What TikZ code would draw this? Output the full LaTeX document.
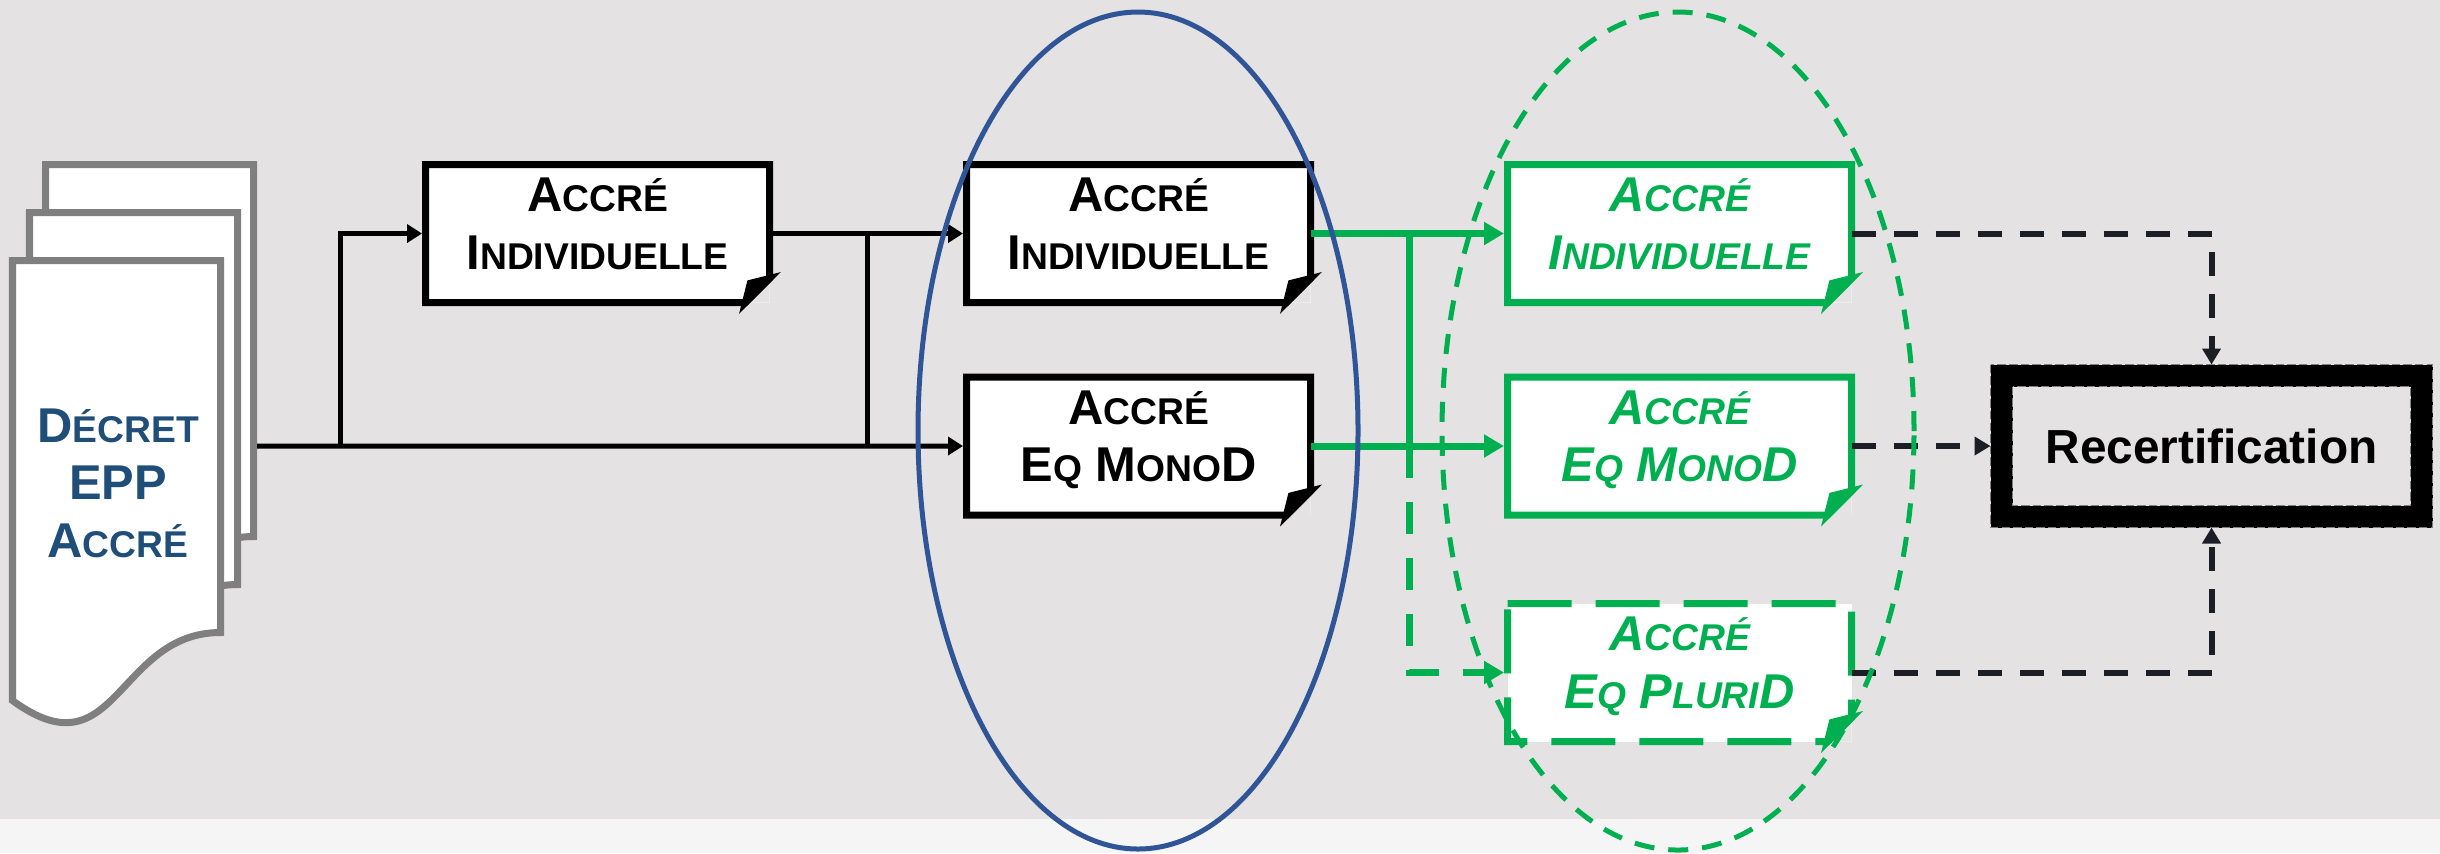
\documentclass[tikz,border=0pt]{standalone}
\usepackage{fontspec}
\setmainfont{Liberation Sans}
\usepackage{xcolor}
\usepackage{tikz}
\usetikzlibrary{positioning,arrows.meta}
\definecolor{bgcol}{RGB}{228,226,227}
\definecolor{footcol}{RGB}{245,245,245}
\definecolor{docgray}{RGB}{127,127,127}
\definecolor{decretblue}{RGB}{31,78,121}
\definecolor{ellblue}{RGB}{47,85,151}
\definecolor{accgreen}{RGB}{0,176,80}
\definecolor{dashblack}{RGB}{28,30,38}
\newcommand{\bigsc}[1]{{\fontsize{13.9pt}{16.4pt}\selectfont #1}}
\newcommand{\smallsc}[1]{{\fontsize{10.6pt}{16.4pt}\selectfont #1}}
\newcommand{\smcap}[2]{\bigsc{#1}\smallsc{#2}}
% box outline with the folded corner at south east
\newcommand{\foldcorner}[3]{%
  \fill[bgcol] ([yshift=0.24cm]#1.south east) -- (#1.south east) -- ([xshift=-0.24cm]#1.south east) -- cycle;
  \draw[#2,line width=0.07cm,#3] (#1.north west) -- (#1.north east) -- ([yshift=0.24cm]#1.south east)
    -- ([xshift=-0.24cm]#1.south east) -- (#1.south west) -- cycle;
  \filldraw[#2,line width=0.07cm] ([xshift=-0.24cm]#1.south east) -- ([xshift=-0.192cm,yshift=0.192cm]#1.south east)
    -- ([yshift=0.24cm]#1.south east) -- cycle;}

\begin{document}
\begin{tikzpicture}[auto,every node/.style={on grid,node distance=5.41cm},
    sheet/.style={draw=docgray,fill=white,line width=0.07cm},
    doctext/.style={align=center,text=decretblue,font=\bfseries\fontsize{13.9pt}{16.4pt}\selectfont},
    box/.style={rectangle,fill=white,minimum width=3.44cm,minimum height=1.38cm,inner sep=0pt,outer sep=0pt,
      align=center,text depth=0.2cm,font=\bfseries\fontsize{13.9pt}{16.4pt}\selectfont},
    gbox/.style={box,text=accgreen,font=\bfseries\itshape\fontsize{13.9pt}{16.4pt}\selectfont},
    recbox/.style={rectangle,draw=black,line width=0.22cm,minimum width=4.2cm,minimum height=1.41cm,inner sep=0pt,
      font=\bfseries\fontsize{13.6pt}{16pt}\selectfont},
    recedge/.style={draw=gray,line width=0.3pt,dash pattern=on 2.4pt off 0.9pt},
    kline/.style={draw=black,line width=0.05cm},
    kconn/.style={kline,-{Triangle[length=0.15cm,width=0.18cm]},shorten >=0.035cm},
    gline/.style={draw=accgreen,line width=0.07cm},
    gconn/.style={gline,-{Triangle[length=0.2cm,width=0.22cm]},shorten >=0.035cm},
    gdashconn/.style={gconn,dash pattern=on 0.32cm off 0.24cm},
    kdash/.style={draw=dashblack,line width=0.06cm,dash pattern=on 0.24cm off 0.18cm,-{Triangle[length=0.16cm,width=0.18cm]}}]
    \useasboundingbox (0,0) rectangle (24.4,-8.53);
    \fill[bgcol] (0,0) rectangle (24.4,-8.53);
    \fill[footcol] (0,-8.19) rectangle (24.4,-8.53);

    % stack of documents
    \foreach \x/\y in {0.455/-1.645,0.295/-2.125,0.125/-2.605}
      \filldraw[sheet,shift={(\x,\y)}] (0,0) -- (2.08,0) -- (2.08,-3.72)
        .. controls (1.04,-3.72) and (1.04,-5.16) .. (0,-4.40) -- cycle;
    \node[doctext] (decret) at (1.18,-4.83) {\smcap{D}{ÉCRET}\\EPP\\\smcap{A}{CCRÉ}};

    \node[box] (A1) at (5.975,-2.335) {\smcap{A}{CCRÉ}\\\smcap{I}{NDIVIDUELLE}};
    \node[box,right of=A1] (B1) {\smcap{A}{CCRÉ}\\\smcap{I}{NDIVIDUELLE}};
    \node[box,node distance=2.125cm,below of=B1] (B2) {\smcap{A}{CCRÉ}\\\smcap{E}{Q} \smcap{M}{ONO}D};
    \node[gbox,right of=B1] (C1) {\smcap{A}{CCRÉ}\\\smcap{I}{NDIVIDUELLE}};
    \node[gbox,node distance=2.125cm,below of=C1] (C2) {\smcap{A}{CCRÉ}\\\smcap{E}{Q} \smcap{M}{ONO}D};
    \node[gbox,node distance=2.265cm,below of=C2] (C3) {\smcap{A}{CCRÉ}\\\smcap{E}{Q} \smcap{P}{LURI}D};
    \node[recbox,node distance=5.32cm,right of=C2] (Rec) {Recertification};
    \foldcorner{A1}{black}{}
    \foldcorner{B1}{black}{}
    \foldcorner{B2}{black}{}
    \foldcorner{C1}{accgreen}{}
    \foldcorner{C2}{accgreen}{}
    \foldcorner{C3}{accgreen}{dash pattern=on 0.64cm off 0.24cm}
    \draw[recedge] (Rec.north west) rectangle (Rec.south east);
    \draw[recedge] ([shift={(0.22,-0.22)}]Rec.north west) rectangle ([shift={(-0.22,0.22)}]Rec.south east);

    \coordinate (docout) at (2.57,-4.46);
    \coordinate (j1) at (3.40,-4.46);
    \coordinate (j2) at (8.67,-2.335);
    \coordinate (g1) at (14.09,-2.335);
    \coordinate (g2) at (14.09,-4.46);
    \draw[kconn] (docout) -- (B2);
    \draw[kconn] (j1) |- (A1);
    \draw[kconn] (A1) -- (B1);
    \draw[kline] (j2) -- (j2 |- B2);
    \draw[gconn] (B1) -- (C1);
    \draw[gconn] (B2) -- (C2);
    \draw[gline] (g1) -- (g2);
    \draw[gdashconn] (g2) |- (C3);
    \draw[kdash] (C1) -| (Rec);
    \draw[kdash] (C2) -- (Rec);
    \draw[kdash] (C3) -| (Rec);

    % groups
    \draw[ellblue,line width=0.05cm] (11.38,-4.305) ellipse [x radius=2.2cm,y radius=4.185cm];
    \draw[accgreen,line width=0.05cm,dash pattern=on 0.2cm off 0.14cm] (16.78,-4.31) ellipse [x radius=2.36cm,y radius=4.19cm];
  \end{tikzpicture}
\end{document}
